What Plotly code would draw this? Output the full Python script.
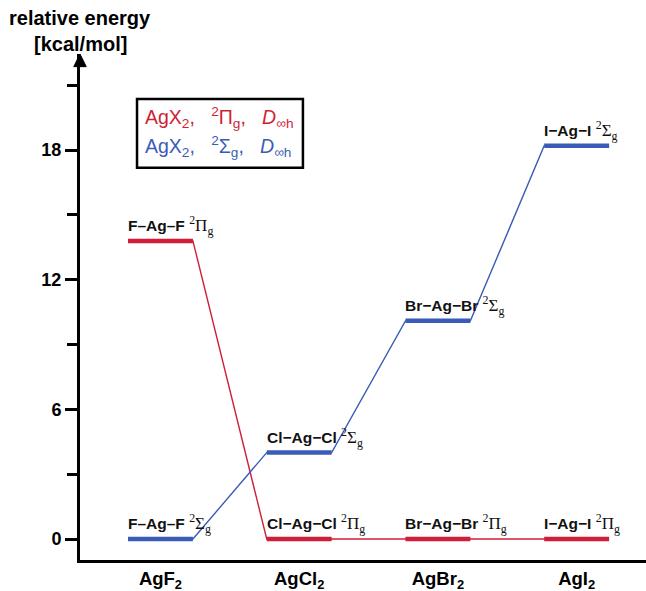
import plotly.graph_objects as go

# ---- data ----
categories = ["AgF<sub>2</sub>", "AgCl<sub>2</sub>", "AgBr<sub>2</sub>", "AgI<sub>2</sub>"]
pi_energy = [13.8, 0.0, 0.0, 0.0]          # 2Pi_g state, kcal/mol
sigma_energy = [0.0, 4.0, 10.1, 18.2]      # 2Sigma_g state, kcal/mol
molecule_labels = ["F–Ag–F", "Cl−Ag−Cl", "Br−Ag−Br", "I−Ag−I"]
y_major = [0, 6, 12, 18]
y_minor = [3, 9, 15, 21]

RED = "#cf1f38"
BLUE = "#3b5cb6"
HW = 0.234  # half width of a level bar (category units)

fig = go.Figure()

def add_series(energies, color):
    xs, ys = [], []
    for i, e in enumerate(energies):
        xs += [i - HW, i + HW]
        ys += [e, e]
    # thin connectors
    fig.add_trace(go.Scatter(x=xs, y=ys, mode="lines",
                             line=dict(color=color, width=1.4),
                             hoverinfo="skip", showlegend=False, cliponaxis=False))
    # thick level bars
    bx, by = [], []
    for i, e in enumerate(energies):
        bx += [i - HW, i + HW, None]
        by += [e, e, None]
    fig.add_trace(go.Scatter(x=bx, y=by, mode="lines",
                             line=dict(color=color, width=4.5),
                             hoverinfo="skip", showlegend=False, cliponaxis=False))

add_series(pi_energy, RED)
add_series(sigma_energy, BLUE)

SERIF = "Liberation Serif, Times New Roman, serif"

def term(sym):
    return ("<span style='font-family:%s;font-weight:normal;font-size:17px'><sup>2</sup>%s<sub>g</sub></span>"
            % (SERIF, sym))

for energies, sym in ((pi_energy, "Π"), (sigma_energy, "Σ")):
    for i, e in enumerate(energies):
        fig.add_annotation(x=i - HW, y=e, xref="x", yref="y",
                           text="<b>%s</b> %s" % (molecule_labels[i], term(sym)),
                           showarrow=False, xanchor="left", yanchor="bottom",
                           xshift=-2, yshift=1,
                           font=dict(family="Liberation Sans, Arial", size=15.5, color="#111"))

# legend box
fig.add_shape(type="rect", xref="x", yref="y", x0=-0.169, x1=1.027, y0=17.18, y1=20.37,
              line=dict(color="black", width=2.5), fillcolor="white", layer="below")
NB = "\u00a0"
leg_pi = "AgX<sub>2</sub>," + NB * 3 + "<sup>2</sup>Π<sub>g</sub>," + NB * 3 + "<i>D</i><sub>∞h</sub>"
leg_sg = "AgX<sub>2</sub>," + NB * 3 + "<sup>2</sup>Σ<sub>g</sub>," + NB * 3 + "<i>D</i><sub>∞h</sub>"
fig.add_annotation(x=-0.123, y=19.49, xref="x", yref="y", text=leg_pi, showarrow=False,
                   xanchor="left", yanchor="middle",
                   font=dict(family="Liberation Sans, Arial", size=19.5, color=RED))
fig.add_annotation(x=-0.123, y=18.15, xref="x", yref="y", text=leg_sg, showarrow=False,
                   xanchor="left", yanchor="middle",
                   font=dict(family="Liberation Sans, Arial", size=19.5, color=BLUE))

# y-axis title
fig.add_annotation(x=0, y=(560 - 18) / 506, xref="paper", yref="paper",
                   text="<b>relative energy</b>", showarrow=False,
                   xanchor="center", yanchor="middle",
                   font=dict(family="Liberation Sans, Arial", size=20, color="black"))
fig.add_annotation(x=0, y=(560 - 44) / 506, xref="paper", yref="paper",
                   text="<b>[kcal/mol]</b>", showarrow=False,
                   xanchor="center", yanchor="middle",
                   font=dict(family="Liberation Sans, Arial", size=20, color="black"))

# arrow head on y axis
fig.add_shape(type="path", xref="paper", yref="paper",
              path="M -0.011 0.975 L 0.011 0.975 L 0 1.0 Z",
              fillcolor="black", line=dict(color="black", width=1))

fig.update_layout(
    width=646, height=591,
    margin=dict(l=80, r=0, t=54, b=31),
    paper_bgcolor="white", plot_bgcolor="white",
    font=dict(family="Liberation Sans, Arial", color="black"),
    xaxis=dict(range=[-0.58, 3.5], showgrid=False, zeroline=False,
               showline=True, linecolor="black", linewidth=3,
               tickvals=list(range(len(categories))), ticktext=["<b>%s</b>" % c for c in categories],
               ticks="", tickfont=dict(size=18.5, family="Liberation Sans, Arial", color="black")),
    yaxis=dict(range=[-0.97, 22.45], showgrid=False, zeroline=False,
               showline=True, linecolor="black", linewidth=3,
               tickvals=y_major, ticktext=["<b>%d</b>" % v for v in y_major],
               ticks="outside", ticklen=12, tickwidth=2.5, tickcolor="black",
               tickfont=dict(size=18, family="Liberation Sans, Arial", color="black"),
               minor=dict(tickvals=y_minor, ticks="outside", ticklen=10, tickwidth=2.5,
                          tickcolor="black")),
)

fig.write_html("out.html")
